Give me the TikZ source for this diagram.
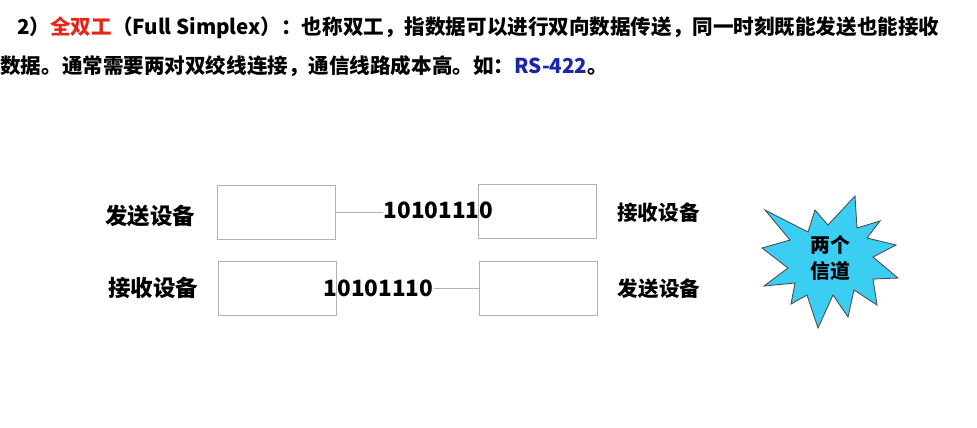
\documentclass[tikz,border=0pt]{standalone}
\usepackage{fontspec}
\setmainfont{Noto Sans CJK SC}
\usepackage{tikz}
\usetikzlibrary{positioning}
\definecolor{titlered}{RGB}{228,38,28}
\definecolor{rsblue}{RGB}{28,36,168}
\definecolor{starcyan}{RGB}{60,205,243}
\definecolor{boxgray}{RGB}{178,178,178}

\begin{document}
\begin{tikzpicture}[x=0.02cm, y=-0.02cm,
  devbox/.style={draw=boxgray, line width=0.7pt, minimum width=2.36cm, minimum height=1.07cm, inner sep=0pt},
  devlabel/.style={font=\bfseries\fontsize{12.8}{15}\selectfont, inner sep=0pt},
  sidelabel/.style={font=\bfseries\fontsize{11.7}{14}\selectfont, inner sep=0pt},
  bits/.style={font=\bfseries\fontsize{12.8}{15}\selectfont, inner sep=0pt},
  wire/.style={draw=boxgray, line width=0.7pt}]
\useasboundingbox (0,0) rectangle (977,427);

% Heading text
\node[anchor=west, sidelabel] (head1) at (17,28) {2）\textcolor{titlered}{全双工}（Full Simplex）：也称双工，指数据可以进行双向数据传送，同一时刻既能发送也能接收};
\node[anchor=west, sidelabel] (head2) at (0,66) {数据。通常需要两对双绞线连接，通信线路成本高。如：\textcolor{rsblue}{RS-422}。};

% Device boxes
\node[devbox] (sendA) at (276.7,212.5) {};
\node[devbox] (recvA) at (537.5,211.5) {};
\node[devbox] (recvB) at (277.3,288.5) {};
\node[devbox] (sendB) at (538.5,288.5) {};

% Device labels
\node[devlabel] (lsendA) at (150,216) {发送设备};
\node[devlabel] (lrecvB) at (153,288) {接收设备};
\node[sidelabel] (lrecvA) at (658.5,213) {接收设备};
\node[sidelabel] (lsendB) at (659,289) {发送设备};

% Data on the two lines
\node[bits] (bitsA) at (438.5,210) {10101110};
\node[bits] (bitsB) at (378.5,288) {10101110};
\draw[wire] (sendA.east) -- (sendA.east -| bitsA.west);
\draw[wire] (bitsB.east |- sendB.west) -- (sendB.west);

% Two channels
\filldraw[fill=starcyan, draw=gray!60!black, line width=0.5pt]
  (855,196) -- (857,228) -- (880,221) -- (867,238) -- (896,245) -- (873,257)
  -- (898,278) -- (873,279) -- (877,305) -- (854,290) -- (848,317) -- (833,295)
  -- (818,328) -- (807,295) -- (791,304) -- (795,283) -- (764,286) -- (788,268)
  -- (762,248) -- (790,240) -- (765,210) -- (808,232) -- (815,210) -- (828,225) -- cycle;
\node[align=center, inner sep=0pt, font=\bfseries\fontsize{11.3}{15.3}\selectfont] (chan) at (830,258) {两个\\信道};
\end{tikzpicture}
\end{document}
